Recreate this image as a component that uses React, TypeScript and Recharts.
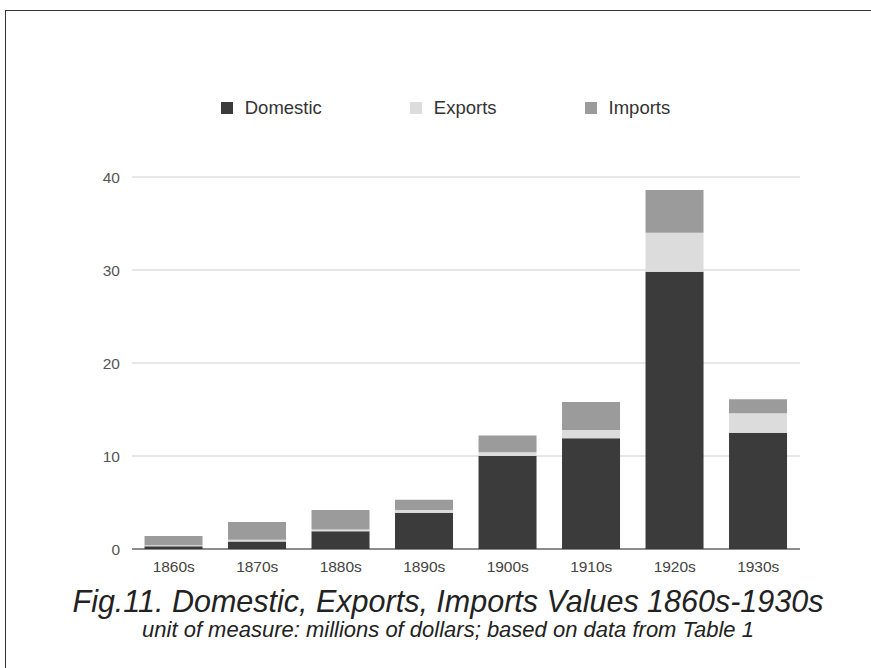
import React from "react";
import { BarChart, Bar, XAxis, YAxis, CartesianGrid, Legend } from "recharts";

const decades = ["1860s", "1870s", "1880s", "1890s", "1900s", "1910s", "1920s", "1930s"];
const domestic = [0.3, 0.8, 1.9, 3.9, 10.0, 11.9, 29.8, 12.5];
const exportsV = [0.1, 0.2, 0.2, 0.3, 0.4, 0.9, 4.2, 2.1];
const importsV = [1.0, 1.9, 2.1, 1.1, 1.8, 3.0, 4.6, 1.5];
const yTicks = [0, 10, 20, 30, 40];
const seriesNames = ["Domestic", "Exports", "Imports"];
const seriesColors = ["#3b3b3b", "#dcdcdc", "#9b9b9b"];

const data = decades.map((d, i) => ({
  decade: d,
  Domestic: domestic[i],
  Exports: exportsV[i],
  Imports: importsV[i],
}));

const FONT = "'Liberation Sans', Arial, Helvetica, sans-serif";

const LegendContent = () => (
  <div
    style={{
      display: "flex",
      justifyContent: "center",
      gap: 88,
      paddingLeft: 20,
      fontFamily: FONT,
      fontSize: 18.5,
      lineHeight: "20px",
      height: 20,
      color: "#333",
    }}
  >
    {seriesNames.map((n, i) => (
      <div key={n} style={{ display: "flex", alignItems: "center" }}>
        <div style={{ width: 12, height: 12, background: seriesColors[i], marginRight: 12 }} />
        <span>{n}</span>
      </div>
    ))}
  </div>
);

export default function App() {
  return (
    <div
      style={{
        position: "absolute",
        left: 0,
        top: 0,
        width: 871,
        height: 668,
        overflow: "hidden",
        background: "#fff",
      }}
    >
      <div
        style={{
          position: "absolute",
          left: 5,
          top: 10,
          width: 1000,
          height: 1000,
          borderLeft: "1.5px solid #333",
          borderTop: "1.5px solid #333",
        }}
      />
      <div style={{ position: "absolute", left: 0, top: 0 }}>
        <BarChart
          width={871}
          height={668}
          data={data}
          margin={{ top: 157, right: 71, bottom: 89, left: 92 }}
          barCategoryGap="15%"
        >
          <CartesianGrid vertical={false} stroke="#cfcfcf" />
          <XAxis
            dataKey="decade"
            height={30}
            tickLine={false}
            tickSize={0}
            tickMargin={12}
            stroke="#333"
            tick={{ fill: "#444", fontSize: 15.5, fontFamily: FONT }}
          />
          <YAxis
            width={40}
            domain={[0, 40]}
            ticks={yTicks}
            axisLine={false}
            tickLine={false}
            tickSize={0}
            tickMargin={12}
            tick={{ fill: "#555", fontSize: 15.5, fontFamily: FONT }}
          />
          <Legend
            verticalAlign="top"
            height={20}
            content={<LegendContent />}
            wrapperStyle={{ top: 98, left: 0, width: 871 }}
          />
          {seriesNames.map((n, i) => (
            <Bar key={n} dataKey={n} stackId="a" fill={seriesColors[i]} isAnimationActive={false} />
          ))}
        </BarChart>
      </div>
      <div
        style={{
          position: "absolute",
          left: 0,
          width: 896,
          top: 587,
          height: 28,
          lineHeight: "28px",
          textAlign: "center",
          fontFamily: FONT,
          fontStyle: "italic",
          fontSize: 30.5,
          color: "#222",
          whiteSpace: "nowrap",
        }}
      >
        Fig.11. Domestic, Exports, Imports Values 1860s-1930s
      </div>
      <div
        style={{
          position: "absolute",
          left: 0,
          width: 896,
          top: 619,
          height: 22,
          lineHeight: "22px",
          textAlign: "center",
          fontFamily: FONT,
          fontStyle: "italic",
          fontSize: 22,
          color: "#222",
          whiteSpace: "nowrap",
        }}
      >
        unit of measure: millions of dollars; based on data from Table 1
      </div>
    </div>
  );
}
